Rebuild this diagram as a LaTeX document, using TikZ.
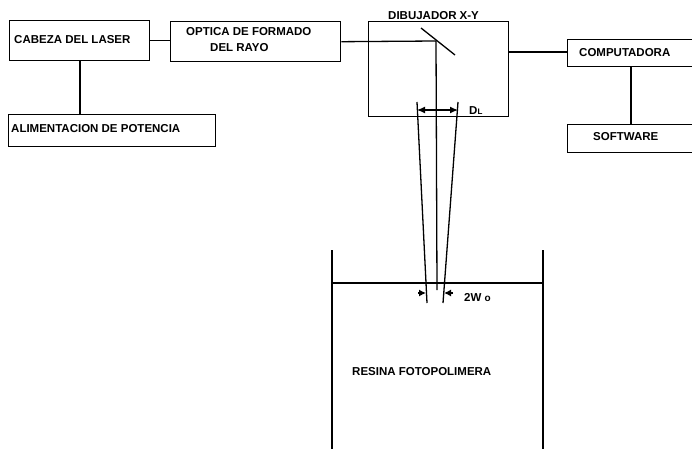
\documentclass[tikz,border=0pt]{standalone}
\usepackage{fontspec}
\setmainfont{Liberation Sans}
\usetikzlibrary{arrows.meta}
\tikzset{
  boxnode/.style={draw,line width=1.4pt,inner sep=0pt,anchor=north west},
  lbl/.style={font=\fontsize{11.5}{13}\selectfont\bfseries,inner sep=0pt,anchor=west,align=left},
  wire/.style={line width=1.3pt},
  dim/.style={line width=1.2pt,{Latex[length=8pt,width=7pt]}-{Latex[length=8pt,width=7pt]}},
  tip/.style={line width=1.2pt,-{Latex[length=7pt,width=7pt]}}
}
\begin{document}
\begin{tikzpicture}[x=1pt,y=-1pt]
\useasboundingbox (0,0) rectangle (692,449);
% boxes
\node[boxnode,minimum width=140pt,minimum height=40pt] (cab) at (9,20) {};
\node[boxnode,minimum width=170pt,minimum height=40pt] (opt) at (170,21) {};
\node[boxnode,minimum width=207pt,minimum height=32pt] (ali) at (8,114) {};
\node[boxnode,minimum width=140pt,minimum height=95pt] (dib) at (368,21) {};
\node[boxnode,minimum width=128pt,minimum height=27pt] (com) at (567,39) {};
\node[boxnode,minimum width=128pt,minimum height=28pt] (sof) at (567,124) {};
% labels
\node[lbl] (tcab) at (14,40) {CABEZA DEL LASER};
\node[lbl] (topt) at (186,32) {OPTICA DE FORMADO};
\node[lbl] (topt2) at (210,48) {DEL RAYO};
\node[lbl] (tali) at (11,129) {ALIMENTACION DE POTENCIA};
\node[lbl] (tdib) at (388,16) {DIBUJADOR X-Y};
\node[lbl] (tcom) at (579,53) {COMPUTADORA};
\node[lbl] (tsof) at (593,137) {SOFTWARE};
\node[lbl] (tdl) at (469,111) {D{\fontsize{8}{9}\selectfont L}};
\node[lbl] (t2w) at (464,298) {2W {\fontsize{10}{11}\selectfont o}};
\node[lbl] (tres) at (352,372) {RESINA FOTOPOLIMERA};
% coordinates of the optics
\coordinate (m) at (436,41);
\coordinate (m1) at (421,28);
\coordinate (m2) at (455,55);
\coordinate (bend) at (437,290);
\coordinate (la) at (417,102);
\coordinate (lb) at (427,303);
\coordinate (ra) at (458,102);
\coordinate (rb) at (443,303);
\coordinate (dl) at (417,110);
\coordinate (dr) at (458,110);
\coordinate (tl) at (332,250);
\coordinate (tlb) at (332,449);
\coordinate (tr) at (543,250);
\coordinate (trb) at (543,449);
\coordinate (sl) at (332,283);
\coordinate (sr) at (543,283);
\coordinate (al) at (418,293);
\coordinate (ale) at (426,293);
\coordinate (ar) at (453,293);
\coordinate (are) at (444,293);
% connectors
\draw[wire] (cab.east) -- (opt.west |- cab.east);
\draw[wire] (cab.south -| 80,0) -- (ali.north -| 80,0);
\draw[wire] (opt.east) -- (m);
\draw[wire] (m1) -- (m2);
\draw[wire] (m) -- (bend);
\draw[wire] (la) -- (lb);
\draw[wire] (ra) -- (rb);
\draw[wire] (dib.east |- 0,52) -- (com.west |- 0,52);
\draw[wire] (com.south -| 631,0) -- (sof.north -| 631,0);
\draw[dim] (dl) -- (dr);
\draw[wire,line width=1.5pt] (tl) -- (tlb);
\draw[wire,line width=1.5pt] (tr) -- (trb);
\draw[wire,line width=1.5pt] (sl) -- (sr);
\draw[tip] (al) -- (ale);
\draw[tip] (ar) -- (are);
\end{tikzpicture}
\end{document}
